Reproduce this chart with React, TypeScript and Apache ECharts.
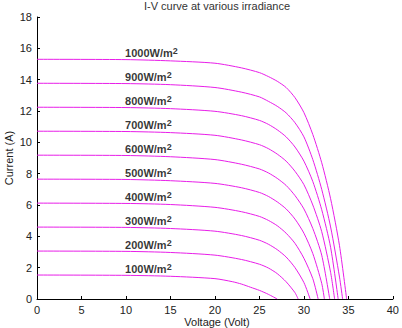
import React, { useEffect, useRef } from "react";
import * as echarts from "echarts";

const irradiance = ["1000", "900", "800", "700", "600", "500", "400", "300", "200", "100"];

const curve1000: number[][] = [[0, 15.3], [10, 15.28], [15, 15.2], [20, 15.05], [23, 14.75], [25, 14.45], [26, 14.2], [27, 13.9], [28, 13.5], [29, 12.85], [30, 11.9], [31, 10.5], [32, 8.7], [33, 6.4], [34, 3.4], [34.8, 0]];
const curve900: number[][] = [[0, 13.77], [10, 13.75], [15, 13.68], [20, 13.5], [23, 13.2], [25, 12.9], [26, 12.62], [27, 12.3], [28, 11.88], [29, 11.25], [30, 10.35], [31, 8.9], [32, 7.0], [33, 4.6], [34, 1.4], [34.35, 0]];
const curve800: number[][] = [[0, 12.24], [10, 12.22], [15, 12.15], [20, 11.98], [23, 11.7], [25, 11.4], [26, 11.15], [27, 10.8], [28, 10.35], [29, 9.7], [30, 8.8], [31, 7.5], [32, 5.7], [33, 3.3], [33.85, 0]];
const curve700: number[][] = [[0, 10.71], [10, 10.69], [15, 10.62], [20, 10.45], [23, 10.15], [25, 9.85], [26, 9.6], [27, 9.25], [28, 8.8], [29, 8.15], [30, 7.3], [31, 6.0], [32, 4.3], [33, 1.7], [33.45, 0]];
const curve600: number[][] = [[0, 9.18], [10, 9.16], [15, 9.08], [20, 8.9], [23, 8.6], [25, 8.3], [26, 8.05], [27, 7.7], [28, 7.25], [29, 6.6], [30, 5.75], [31, 4.5], [32, 2.8], [32.9, 0]];
const curve500: number[][] = [[0, 7.65], [10, 7.63], [15, 7.55], [20, 7.38], [23, 7.1], [25, 6.8], [26, 6.55], [27, 6.2], [28, 5.75], [29, 5.1], [30, 4.2], [31, 2.9], [32, 1.0], [32.3, 0]];
const curve400: number[][] = [[0, 6.12], [10, 6.1], [15, 6.03], [20, 5.85], [23, 5.57], [25, 5.27], [26, 5.02], [27, 4.68], [28, 4.2], [29, 3.55], [30, 2.6], [31, 1.3], [31.6, 0]];
const curve300: number[][] = [[0, 4.59], [10, 4.57], [15, 4.5], [20, 4.33], [23, 4.05], [25, 3.75], [26, 3.5], [27, 3.15], [28, 2.68], [29, 2.0], [30, 1.05], [30.7, 0]];
const curve200: number[][] = [[0, 3.06], [10, 3.04], [15, 2.97], [20, 2.8], [23, 2.52], [25, 2.22], [26, 1.98], [27, 1.62], [28, 1.1], [29, 0.4], [29.35, 0]];
const curve100: number[][] = [[0, 1.53], [10, 1.51], [15, 1.45], [20, 1.3], [22, 1.1], [23, 0.95], [24, 0.75], [25, 0.55], [26, 0.3], [27, 0]];

const curves = [curve1000, curve900, curve800, curve700, curve600, curve500, curve400, curve300, curve200, curve100];

const labelVoltage = 9.9;

const xTicks = [0, 5, 10, 15, 20, 25, 30, 35, 40];
const yTicks = [0, 2, 4, 6, 8, 10, 12, 14, 16, 18];

const LINE_COLOR = "#e81ee8";
const FONT = "'Liberation Sans', Arial, sans-serif";

export default function App() {
  const ref = useRef<HTMLDivElement>(null);
  useEffect(() => {
    document.body.style.margin = "0";
    if (!ref.current) return;
    const chart = echarts.init(ref.current, undefined, { renderer: "svg" });

    const lineSeries = curves.map((c, i) => ({
      type: "line",
      name: irradiance[i],
      data: c,
      showSymbol: false,
      symbol: "none",
      smooth: 0.25,
      lineStyle: { color: LINE_COLOR, width: 1 },
      z: 2,
    }));

    const labelData = curves.map((c, i) => ({
      value: [labelVoltage, c[0][1]],
      name: irradiance[i],
    }));

    const option: any = {
      animation: false,
      textStyle: { fontFamily: FONT },
      grid: { left: 37, right: 2, top: 17, bottom: 29, containLabel: false },
      xAxis: {
        type: "value",
        min: xTicks[0],
        max: xTicks[xTicks.length - 1],
        interval: 5,
        axisLine: { show: true, lineStyle: { color: "#000", width: 1 } },
        axisTick: { show: true, inside: true, length: 3, lineStyle: { color: "#000" } },
        axisLabel: { color: "#222", fontSize: 11, margin: 5, fontFamily: FONT },
        splitLine: { show: false },
      },
      yAxis: {
        type: "value",
        min: yTicks[0],
        max: yTicks[yTicks.length - 1],
        interval: 2,
        axisLine: { show: true, lineStyle: { color: "#000", width: 1 } },
        axisTick: { show: true, inside: true, length: 3, lineStyle: { color: "#000" } },
        axisLabel: { color: "#222", fontSize: 11, margin: 5, fontFamily: FONT },
        splitLine: { show: false },
      },
      graphic: [
        {
          type: "text",
          x: 217,
          y: 0,
          style: {
            text: "I-V curve at various irradiance",
            fill: "#333",
            font: `11px ${FONT}`,
            textAlign: "center",
            textVerticalAlign: "top",
          },
        },
        {
          type: "text",
          x: 217,
          y: 316,
          style: {
            text: "Voltage (Volt)",
            fill: "#222",
            font: `11px ${FONT}`,
            textAlign: "center",
            textVerticalAlign: "top",
          },
        },
        {
          type: "text",
          x: 9,
          y: 158,
          rotation: Math.PI / 2,
          style: {
            text: "Current (A)",
            fill: "#222",
            font: `11px ${FONT}`,
            textAlign: "center",
            textVerticalAlign: "middle",
          },
        },
      ],
      series: [
        ...lineSeries,
        {
          type: "scatter",
          data: labelData,
          symbolSize: 0,
          z: 5,
          label: {
            show: true,
            position: [0, 0],
            align: "left",
            verticalAlign: "bottom",
            formatter: (p: any) => `{a|${p.name}W/m}{s|2}`,
            rich: {
              a: { fontSize: 11, fontWeight: "bold", color: "#000", fontFamily: FONT, lineHeight: 13 },
              s: { fontSize: 9, fontWeight: "bold", color: "#000", fontFamily: FONT, lineHeight: 9, verticalAlign: "top" },
            },
          },
        },
      ],
    };
    chart.setOption(option);
    return () => chart.dispose();
  }, []);
  return <div ref={ref} style={{ width: 402, height: 328 }} />;
}
